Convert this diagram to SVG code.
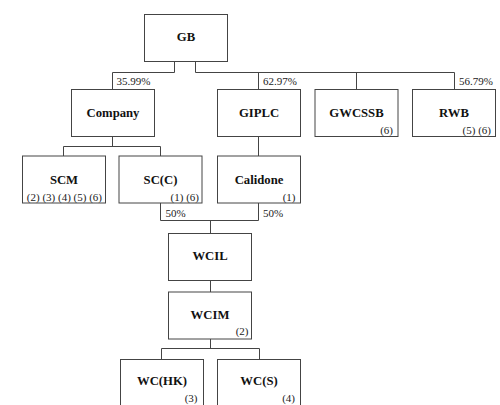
<svg xmlns="http://www.w3.org/2000/svg" width="500" height="405" viewBox="0 0 500 405">
<style>
.box{fill:#fff;stroke:#444;stroke-width:1}
.name{font-family:"Liberation Serif",serif;font-weight:bold;font-size:12.7px;fill:#111;text-anchor:middle}
.note{font-family:"Liberation Serif",serif;font-size:11px;fill:#222;text-anchor:end}
.pct{font-family:"Liberation Serif",serif;font-size:11px;fill:#222}
.conn{fill:none;stroke:#444;stroke-width:1}
</style>
<rect width="500" height="405" fill="#fff"/>
<g id="connectors">
<path class="conn" d="M174.5 61.5V72.5H112.5V89.5M195.5 61.5V72.5H454.5V89.5M258.5 72.5V89.5M356.5 72.5V89.5"/>
<path class="conn" d="M112.5 136.5V146.5M63.5 156V146.5H160.5V156M258.5 136.5V156"/>
<path class="conn" d="M160.5 203V220.5H258.5V203M210.5 220.5V233.5"/>
<path class="conn" d="M210.5 280.5V292"/>
<path class="conn" d="M210.5 338.5V348.5M161.5 359.5V348.5H259.5V359.5"/>
<text class="pct" x="116.5" y="85">35.99%</text>
<text class="pct" x="263" y="85">62.97%</text>
<text class="pct" x="493" y="85" text-anchor="end">56.79%</text>
<text class="pct" x="165.5" y="216.5">50%</text>
<text class="pct" x="263" y="216.5">50%</text>
</g>
<g id="GB"><rect class="box" x="144.5" y="14.5" width="83" height="47"/><text class="name" x="186" y="41">GB</text></g>
<g id="Company"><rect class="box" x="71.5" y="89.5" width="83" height="47"/><text class="name" x="113" y="117">Company</text></g>
<g id="GIPLC"><rect class="box" x="217.5" y="89.5" width="83" height="47"/><text class="name" x="259" y="117">GIPLC</text></g>
<g id="GWCSSB"><rect class="box" x="315" y="89.5" width="83" height="47"/><text class="name" x="356.5" y="117">GWCSSB</text><text class="note" x="393" y="133.5">(6)</text></g>
<g id="RWB"><rect class="box" x="412.5" y="89.5" width="83" height="47"/><text class="name" x="454" y="117">RWB</text><text class="note" x="491" y="133.5">(5) (6)</text></g>
<g id="SCM"><rect class="box" x="22.5" y="156" width="83" height="47"/><text class="name" x="64" y="183.5">SCM</text><text class="note" x="102" y="200.5">(2) (3) (4) (5) (6)</text></g>
<g id="SCC"><rect class="box" x="119" y="156" width="83" height="47"/><text class="name" x="160.5" y="183.5">SC(C)</text><text class="note" x="199" y="200.5">(1) (6)</text></g>
<g id="Calidone"><rect class="box" x="217.5" y="156" width="83" height="47"/><text class="name" x="259" y="183.5">Calidone</text><text class="note" x="295.5" y="200.5">(1)</text></g>
<g id="WCIL"><rect class="box" x="168.5" y="233.5" width="83" height="47"/><text class="name" x="210" y="260">WCIL</text></g>
<g id="WCIM"><rect class="box" x="168.5" y="292" width="83" height="47"/><text class="name" x="210" y="318.5">WCIM</text><text class="note" x="248.5" y="335">(2)</text></g>
<g id="WCHK"><rect class="box" x="120.5" y="359.5" width="83" height="47"/><text class="name" x="162" y="385">WC(HK)</text><text class="note" x="197.5" y="401.5">(3)</text></g>
<g id="WCS"><rect class="box" x="217.5" y="359.5" width="83" height="47"/><text class="name" x="259" y="385">WC(S)</text><text class="note" x="295" y="401.5">(4)</text></g>
</svg>
